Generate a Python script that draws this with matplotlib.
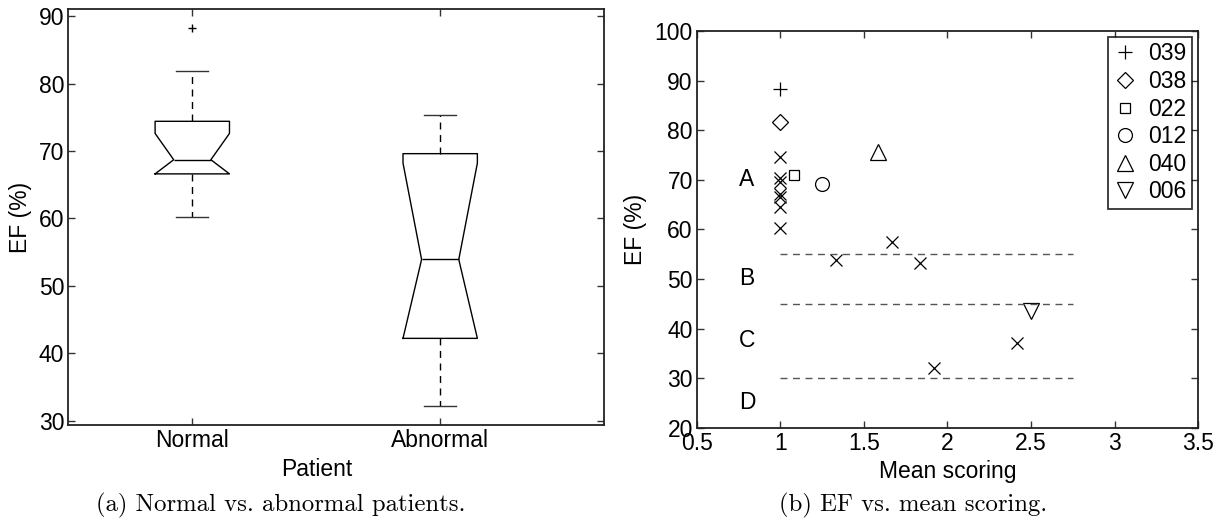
import numpy as np
import matplotlib
matplotlib.use("Agg")
import matplotlib.pyplot as plt

plt.rcParams['font.family'] = ['Liberation Sans', 'DejaVu Sans']
plt.rcParams['font.size'] = 16.5

# (a) box statistics
box_labels = ['Normal', 'Abnormal']
box_med = [68.7, 53.9]
box_q1 = [66.6, 42.2]
box_q3 = [74.4, 69.6]
box_lo = [60.2, 32.1]
box_hi = [81.9, 75.3]
notch_lo = [66.6, 42.2]
notch_hi = [72.6, 68.2]
box_out = [[88.3], []]

# (b) named patients
pat_names = ['039', '038', '022', '012', '040', '006']
pat_markers = ['+', 'D', 's', 'o', '^', 'v']
pat_sizes = [10, 8, 7, 10, 12, 12]
pat_x = [1.0, 1.0, 1.083, 1.25, 1.583, 2.5]
pat_y = [88.2, 81.7, 71.0, 69.1, 75.5, 43.5]

# (b) other patients
other_x = [1.0, 1.0, 1.0, 1.0, 1.0, 1.0, 1.0, 1.333, 1.667, 1.833, 1.917, 2.417]
other_y = [74.5, 70.3, 69.6, 67.2, 66.5, 64.5, 60.2, 53.8, 57.4, 53.2, 32.1, 37.0]

# class boundaries and labels
class_bounds = [55, 45, 30]
class_names = ['A', 'B', 'C', 'D']
class_y = [70, 50, 37.5, 25]


def matlab_axes(ax):
    for s in ax.spines.values():
        s.set_linewidth(1.3)
        s.set_color('#222222')
    ax.tick_params(direction='in', length=5, width=1, top=True, right=True,
                   color='#333333', labelsize=16.5, pad=3)


fig = plt.figure(figsize=(12.29, 5.26), dpi=100)

# ---- (a) boxplot
ax1 = fig.add_axes([0.0556, 0.1914, 0.4361, 0.792])
stats = []
for i in range(len(box_labels)):
    stats.append(dict(med=box_med[i], q1=box_q1[i], q3=box_q3[i],
                      whislo=box_lo[i], whishi=box_hi[i],
                      cilo=notch_lo[i], cihi=notch_hi[i],
                      fliers=box_out[i], label=box_labels[i]))
ax1.bxp(stats, positions=[1, 2], widths=0.3, capwidths=0.13, shownotches=True,
        boxprops=dict(color='black', linewidth=1),
        medianprops=dict(color='black', linewidth=1),
        whiskerprops=dict(color='black', linewidth=1, linestyle=(0, (5, 4))),
        capprops=dict(color='#333333', linewidth=1),
        flierprops=dict(marker='+', markeredgecolor='black', markersize=6,
                        markeredgewidth=1))
ax1.set_xlim(0.5, 2.662)
ax1.set_ylim(29.3, 91.1)
ax1.set_yticks(np.arange(30, 91, 10))
matlab_axes(ax1)
ax1.set_xlabel('Patient', fontsize=16.5)
ax1.set_ylabel('EF (%)', fontsize=16.5)
ax1.xaxis.set_label_coords(0.463, -0.0785)
ax1.yaxis.set_label_coords(-0.0677, 0.5)

# ---- (b) scatter
ax2 = fig.add_axes([0.5671, 0.1869, 0.4077, 0.7542])
for i in range(len(pat_names)):
    ax2.plot(pat_x[i], pat_y[i], linestyle='none', marker=pat_markers[i],
             markersize=pat_sizes[i], markerfacecolor='none',
             markeredgecolor='black', markeredgewidth=0.9, label=pat_names[i])
ax2.plot(other_x, other_y, linestyle='none', marker='x', markersize=8,
         markeredgecolor='black', markeredgewidth=0.9)
ax2.hlines(class_bounds, 1, 2.75, colors='#555555', linestyles=(0, (5, 4)),
           linewidth=1)
for name, yy in zip(class_names, class_y):
    ax2.text(0.8, yy, name, ha='center', va='center', fontsize=16.5)
ax2.set_xlim(0.5, 3.5)
ax2.set_ylim(20, 100)
ax2.set_xticks([0.5, 1, 1.5, 2, 2.5, 3, 3.5])
ax2.set_xticklabels(['0.5', '1', '1.5', '2', '2.5', '3', '3.5'])
ax2.set_yticks(np.arange(20, 101, 10))
matlab_axes(ax2)
ax2.set_xlabel('Mean scoring', fontsize=16.5)
ax2.set_ylabel('EF (%)', fontsize=16.5)
ax2.xaxis.set_label_coords(0.5, -0.081)
ax2.yaxis.set_label_coords(-0.1, 0.5)
leg = ax2.legend(loc='upper right', fontsize=16.5, frameon=True, fancybox=False,
                 borderpad=0.25, handlelength=1.0, handletextpad=0.5,
                 labelspacing=0.2, borderaxespad=0.25)
leg.get_frame().set_edgecolor('black')
leg.get_frame().set_linewidth(1.3)

# captions
fig.text(0.2286, 0.04, '(a) Normal vs. abnormal patients.', ha='center',
         va='center', fontsize=17.8, family='cmr10')
fig.text(0.743, 0.04, '(b) EF vs. mean scoring.', ha='center',
         va='center', fontsize=17.8, family='cmr10')

fig.savefig('out.png', dpi=100)
